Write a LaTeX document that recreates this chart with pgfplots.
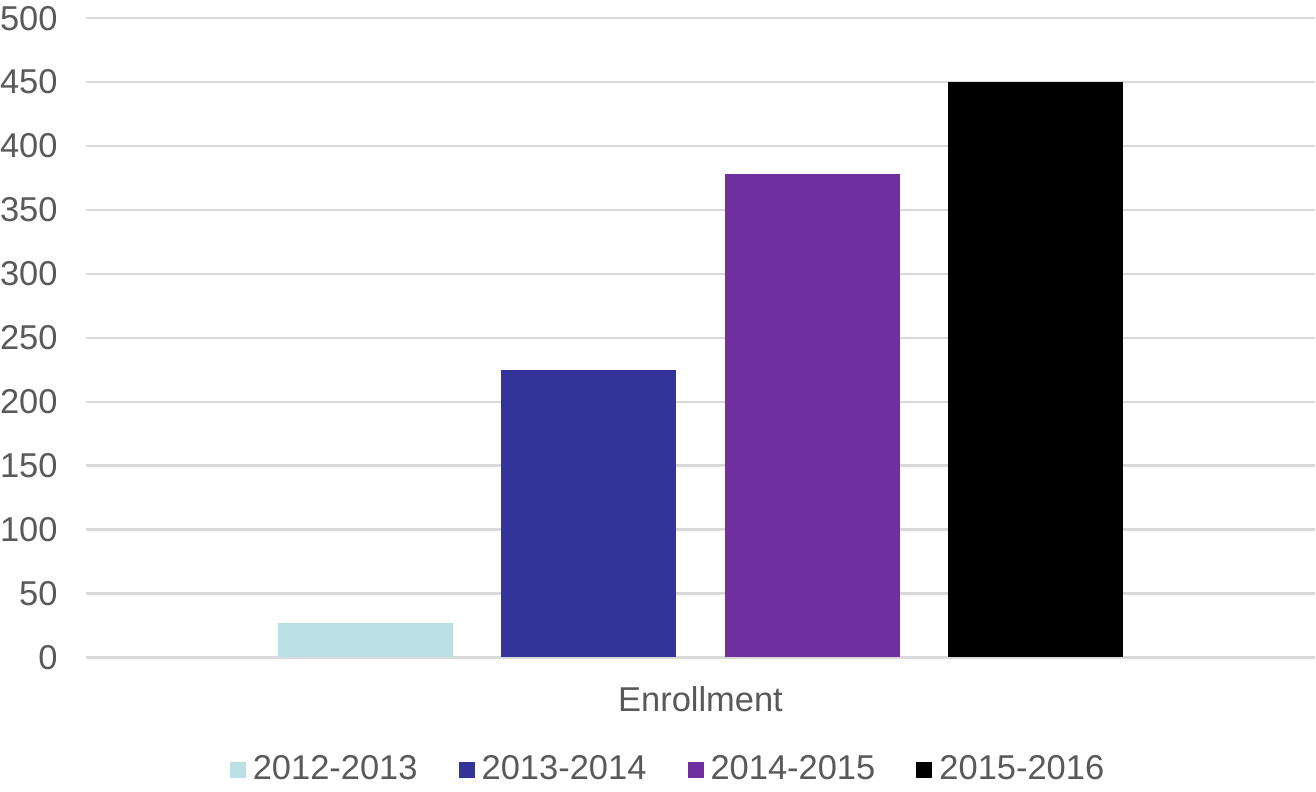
\documentclass[border=0pt]{standalone}
\usepackage{fontspec}
\setmainfont{Liberation Sans}
\usepackage{pgfplots}
\pgfplotsset{compat=1.18}

\definecolor{txtgray}{HTML}{595959}
\definecolor{gridgray}{HTML}{D9D9D9}
\definecolor{cteal}{HTML}{BBE0E3}
\definecolor{cblue}{HTML}{333399}
\definecolor{cpurple}{HTML}{7030A0}

\begin{document}
\begin{tikzpicture}
\begin{axis}[
    scale only axis,
    width=122.8mm, height=63.9mm,
    ybar=4.8mm, bar width=17.5mm,
    xmin=-1, xmax=1,
    ymin=0, ymax=500,
    ytick={0,50,...,500},
    xtick={0}, xticklabels={Enrollment},
    axis line style={draw=none},
    major tick length=0pt,
    ymajorgrids,
    grid style={gridgray, line width=0.25mm},
    every tick label/.append style={font=\fontsize{9.8}{12}\selectfont, text=txtgray, inner sep=0pt},
    /pgf/number format/assume math mode=true,
    yticklabel style={xshift=-2.8mm, inner ysep=0.6mm},
    xticklabel style={yshift=-2.8mm},
    legend style={at={(0.4756,-0.176)}, anchor=center, draw=none, inner sep=0pt,
        font=\fontsize{9.8}{12}\selectfont, text=txtgray,
        legend columns=-1,
        /tikz/every even column/.append style={column sep=3.4mm}},
    legend image code/.code={\fill (0,-0.8mm) rectangle (1.6mm,0.8mm);},
]
\addplot[draw=none, fill=cteal] coordinates {(0,27)};
\addplot[draw=none, fill=cblue] coordinates {(0,225)};
\addplot[draw=none, fill=cpurple] coordinates {(0,378)};
\addplot[draw=none, fill=black] coordinates {(0,450)};
\legend{2012-2013,2013-2014,2014-2015,2015-2016}
\end{axis}
\end{tikzpicture}
\end{document}
